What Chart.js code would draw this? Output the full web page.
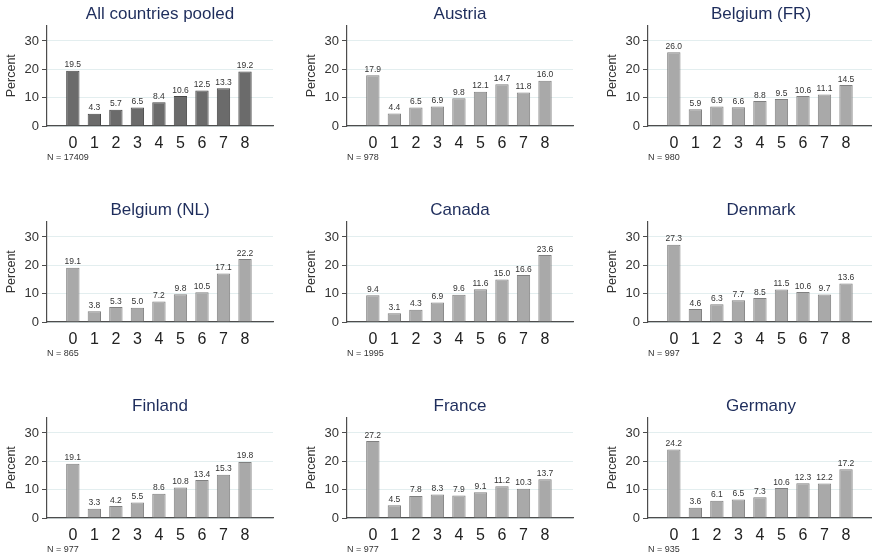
<!DOCTYPE html>
<html>
<head>
<meta charset="utf-8">
<script src="https://cdn.jsdelivr.net/npm/chart.js@4"></script>
<style>
  html, body { margin:0; padding:0; background:#fff; overflow:hidden; width:872px; height:559px; }
  .panel { position:absolute; }
</style>
</head>
<body>
<script>
// ---- data ----
const categories = ['0','1','2','3','4','5','6','7','8'];
const yTicks = [0, 10, 20, 30];
const panelTitles = ['All countries pooled','Austria','Belgium (FR)','Belgium (NL)','Canada','Denmark','Finland','France','Germany'];
const sampleSizes = [17409, 978, 980, 865, 1995, 997, 977, 977, 935];
const pooled    = [19.5, 4.3, 5.7, 6.5, 8.4, 10.6, 12.5, 13.3, 19.2];
const austria   = [17.9, 4.4, 6.5, 6.9, 9.8, 12.1, 14.7, 11.8, 16.0];
const belgiumFR = [26.0, 5.9, 6.9, 6.6, 8.8, 9.5, 10.6, 11.1, 14.5];
const belgiumNL = [19.1, 3.8, 5.3, 5.0, 7.2, 9.8, 10.5, 17.1, 22.2];
const canada    = [9.4, 3.1, 4.3, 6.9, 9.6, 11.6, 15.0, 16.6, 23.6];
const denmark   = [27.3, 4.6, 6.3, 7.7, 8.5, 11.5, 10.6, 9.7, 13.6];
const finland   = [19.1, 3.3, 4.2, 5.5, 8.6, 10.8, 13.4, 15.3, 19.8];
const france    = [27.2, 4.5, 7.8, 8.3, 7.9, 9.1, 11.2, 10.3, 13.7];
const germany   = [24.2, 3.6, 6.1, 6.5, 7.3, 10.6, 12.3, 12.2, 17.2];
const seriesList = [pooled, austria, belgiumFR, belgiumNL, canada, denmark, finland, france, germany];

// ---- layout ----
const FONT = "'Liberation Sans', Arial, sans-serif";
const colLeft = [0, 300, 601];
const rowTop = [0, 196, 392];
const CW = 275, CH = 170;

const barLabels = {
  id: 'barLabels',
  afterDatasetsDraw(chart) {
    const ctx = chart.ctx;
    const meta = chart.getDatasetMeta(0);
    const data = chart.data.datasets[0].data;
    ctx.save();
    ctx.font = '8.5px ' + FONT;
    ctx.fillStyle = '#333';
    ctx.textAlign = 'center';
    ctx.textBaseline = 'bottom';
    meta.data.forEach((el, i) => {
      ctx.fillText(data[i].y.toFixed(1), el.x, el.y - 1.5);
    });
    ctx.restore();
  }
};

seriesList.forEach((vals, k) => {
  const c = document.createElement('canvas');
  c.className = 'panel';
  c.width = CW; c.height = CH;
  c.style.left = colLeft[k % 3] + 'px';
  c.style.top = rowTop[Math.floor(k / 3)] + 'px';
  c.style.width = CW + 'px'; c.style.height = CH + 'px';
  document.body.appendChild(c);
  const isPooled = k === 0;
  new Chart(c, {
    type: 'bar',
    data: {
      datasets: [{
        data: categories.map((cat, i) => ({ x: Number(cat), y: vals[i] })),
        backgroundColor: isPooled ? '#6b6b6b' : '#a9a9a9',
        borderColor: isPooled ? '#454545' : '#808080',
        borderWidth: 1,
        barPercentage: 0.62,
        categoryPercentage: 1.0
      }]
    },
    options: {
      responsive: false,
      animation: false,
      layout: { padding: { left: 0, right: 2, top: 0, bottom: 0 } },
      plugins: {
        legend: { display: false },
        tooltip: { enabled: false },
        title: {
          display: true,
          text: panelTitles[k],
          fullSize: false,
          color: '#1e2d5c',
          font: { family: FONT, size: 17, weight: 'normal', lineHeight: 1.2 },
          padding: { top: 4, bottom: 1 }
        }
      },
      scales: {
        x: {
          type: 'linear',
          offset: false,
          min: -1.2, max: 9.3,
          grid: { display: false, drawTicks: false },
          border: { display: true, color: '#4d4d4d', width: 1.2 },
          afterBuildTicks: s => { s.ticks = categories.map(v => ({ value: Number(v) })); },
          ticks: {
            color: '#222',
            padding: 8,
            autoSkip: false,
            maxRotation: 0,
            font: { family: FONT, size: 16 },
            callback: v => String(v)
          },
          title: {
            display: true,
            text: 'N = ' + sampleSizes[k],
            align: 'start',
            color: '#333',
            font: { family: FONT, size: 9 },
            padding: { top: 0, bottom: 7.5 }
          },
          afterFit: s => { s.height = 44; }
        },
        y: {
          min: 0, max: 35.5,
          afterBuildTicks: s => { s.ticks = yTicks.map(v => ({ value: v })); },
          grid: { color: '#e3eeef', lineWidth: 1, drawTicks: true, tickLength: 5, tickColor: '#4d4d4d' },
          border: { display: true, color: '#4d4d4d', width: 1.2 },
          ticks: { color: '#333', padding: 3, font: { family: FONT, size: 13 } },
          title: {
            display: true,
            text: 'Percent',
            color: '#333',
            font: { family: FONT, size: 12.5 },
            padding: { top: 4.5, bottom: 0 }
          },
          afterFit: s => { s.width = 47; }
        }
      }
    },
    plugins: [barLabels]
  });
});
</script>
</body>
</html>
